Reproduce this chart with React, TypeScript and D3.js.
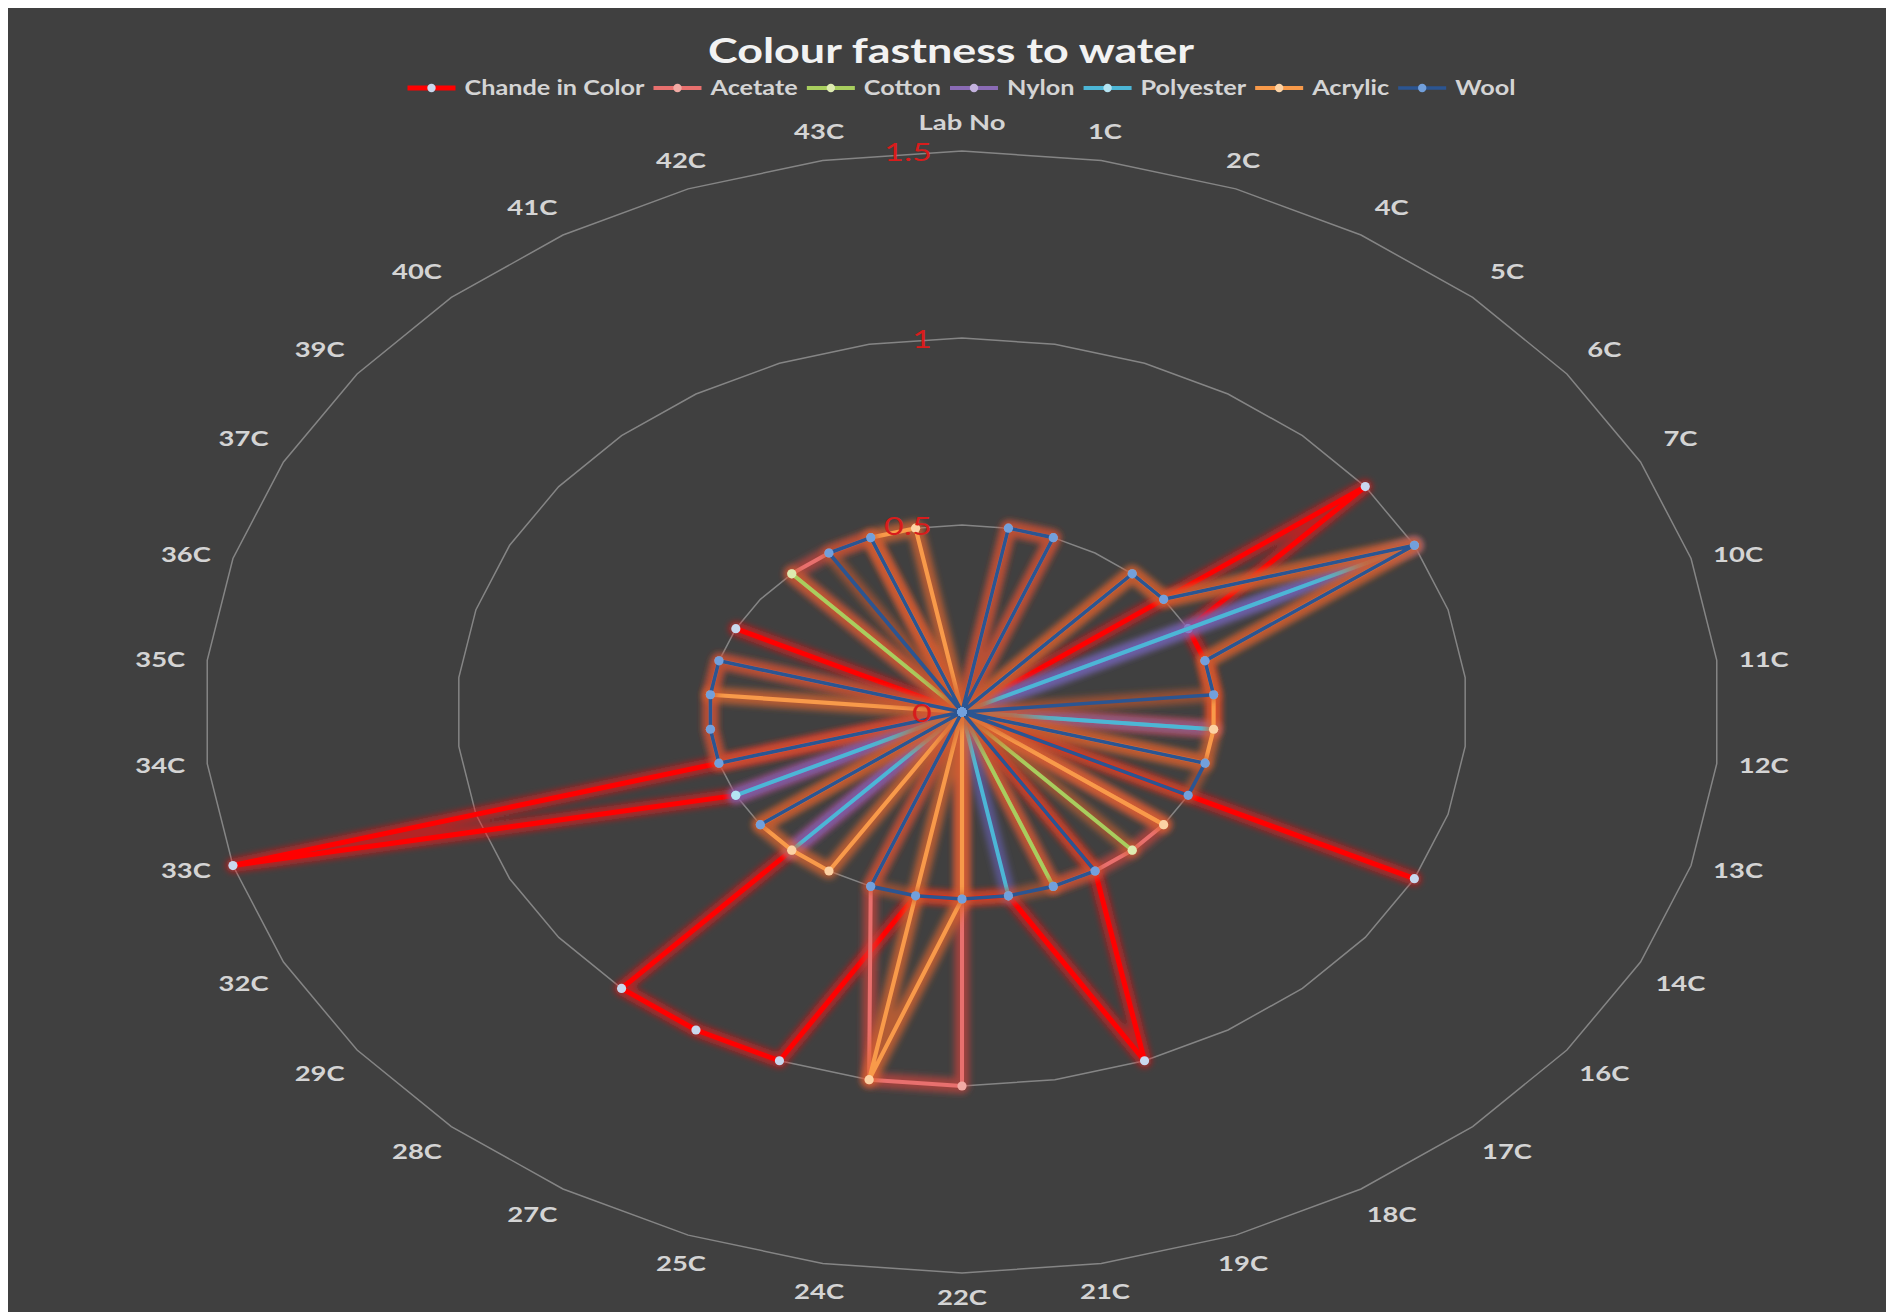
import React, { useEffect, useRef } from "react";
import * as d3 from "d3";

const PAGE_W = 1894;
const PAGE_H = 1312;

const categories = [
  "Lab No", "1C", "2C", "4C", "5C", "6C", "7C", "10C", "11C", "12C", "13C", "14C",
  "16C", "17C", "18C", "19C", "21C", "22C", "24C", "25C", "27C", "28C", "29C", "32C",
  "33C", "34C", "35C", "36C", "37C", "39C", "40C", "41C", "42C", "43C",
];

const changeInColor = [0, 0, 0, 0, 0, 1, 0.5, 0.5, 0.5, 0.5, 0, 1, 0, 0, 0.5, 1, 0.5, 0.5, 0.5, 1, 1, 1, 0, 0.5, 1.5, 0, 0, 0, 0.5, 0, 0, 0, 0, 0];
const acetate = [0, 0.5, 0.5, 0, 0, 0, 0, 0, 0, 0, 0, 0, 0.5, 0.5, 0.5, 0.5, 0, 1, 1, 0.5, 0, 0, 0, 0, 0.5, 0.5, 0.5, 0.5, 0, 0, 0.5, 0.5, 0.5, 0];
const cotton = [0, 0, 0, 0, 0, 0, 0, 0, 0, 0.5, 0, 0, 0, 0.5, 0, 0.5, 0, 0, 0, 0, 0, 0, 0, 0, 0, 0, 0, 0, 0, 0, 0.5, 0, 0, 0];
const nylon = [0, 0, 0, 0, 0, 0, 1, 0, 0, 0, 0, 0, 0, 0, 0, 0, 0, 0, 0, 0, 0, 0.5, 0, 0.5, 0, 0, 0, 0, 0, 0, 0, 0, 0, 0];
const polyester = [0, 0, 0, 0, 0, 0, 1, 0, 0, 0.5, 0, 0, 0, 0, 0, 0, 0.5, 0, 0, 0, 0, 0.5, 0, 0.5, 0, 0, 0, 0, 0, 0, 0, 0, 0, 0];
const acrylic = [0, 0, 0, 0, 0.5, 0.5, 1, 0.5, 0.5, 0.5, 0.5, 0, 0.5, 0, 0, 0, 0, 0.5, 1, 0, 0.5, 0.5, 0.5, 0, 0, 0, 0.5, 0, 0, 0, 0, 0, 0.5, 0.5];
const wool = [0, 0.5, 0.5, 0, 0.5, 0.5, 1, 0.5, 0.5, 0, 0.5, 0.5, 0, 0, 0.5, 0.5, 0.5, 0.5, 0.5, 0.5, 0, 0, 0.5, 0, 0.5, 0.5, 0.5, 0.5, 0, 0, 0, 0.5, 0.5, 0];

const seriesNames = ["Chande in Color", "Acetate", "Cotton", "Nylon", "Polyester", "Acrylic", "Wool"];
const seriesValues = [changeInColor, acetate, cotton, nylon, polyester, acrylic, wool];

const tickValues = [0, 0.5, 1, 1.5];
const tickLabels = ["0", "0.5", "1", "1.5"];

const seriesStyles = [
  { line: "#FF0000", glow: "#FF1010", marker: "#C9D8EE", width: 5, glowW: 14, glowO: 0.6 },
  { line: "#E8706E", glow: "#E0443C", marker: "#F2AAA4", width: 4, glowW: 15, glowO: 0.6 },
  { line: "#A8CE5E", glow: "#D2642E", marker: "#DDEBB0", width: 4, glowW: 15, glowO: 0.6 },
  { line: "#8A6BB5", glow: "#8A6BB5", marker: "#C3B2DE", width: 4, glowW: 15, glowO: 0.6 },
  { line: "#4CB6D6", glow: "#6A62BE", marker: "#B4E4F2", width: 4, glowW: 15, glowO: 0.6 },
  { line: "#F89A4A", glow: "#E2662C", marker: "#FCD2A4", width: 4.2, glowW: 16, glowO: 0.7 },
  { line: "#2B5592", glow: "#C9582C", marker: "#72A0DC", width: 3.6, glowW: 14, glowO: 0.6 },
];

export default function App() {
  const ref = useRef<SVGSVGElement>(null);

  useEffect(() => {
    const svgEl = ref.current;
    if (!svgEl) return;
    const svg = d3.select(svgEl);
    svg.selectAll("*").remove();

    const defs = svg.append("defs");
    defs.append("filter").attr("id", "blur").attr("x", "-20%").attr("y", "-20%").attr("width", "140%").attr("height", "140%")
      .append("feGaussianBlur").attr("stdDeviation", 3);
    defs.append("filter").attr("id", "blurS").attr("x", "-50%").attr("y", "-50%").attr("width", "200%").attr("height", "200%")
      .append("feGaussianBlur").attr("stdDeviation", 1.8);

    const root = svg.append("g").attr("transform", "translate(-8,-8)");
    root.append("rect").attr("x", 0).attr("y", 0).attr("width", PAGE_W).attr("height", PAGE_H).attr("fill", "#404040");

    const cx = 962, cy = 712, rx = 758, ry = 561;
    const n = categories.length;
    const rScale = d3.scaleLinear().domain([0, 1.5]).range([0, 1]);
    const aScale = d3.scaleLinear().domain([0, n]).range([0, Math.PI * 2]);
    const px = (i: number, v: number) => cx + rScale(v) * rx * Math.sin(aScale(i));
    const py = (i: number, v: number) => cy - rScale(v) * ry * Math.cos(aScale(i));

    const fontFam = "Lato, 'Open Sans', 'DejaVu Sans', sans-serif";

    const measure = (txt: string, size: number, weight: string) => {
      const t = svg.append("text").attr("font-family", fontFam).attr("font-size", size).attr("font-weight", weight).text(txt);
      const w = (t.node() as SVGTextElement).getComputedTextLength();
      t.remove();
      return w;
    };

    // grid polygons
    tickValues.filter((t) => t > 0).forEach((t) => {
      const pts = categories.map((_, i) => [px(i, t), py(i, t)] as [number, number]);
      root.append("path")
        .attr("d", d3.line().curve(d3.curveLinearClosed)(pts))
        .attr("fill", "none").attr("stroke", "#858585").attr("stroke-width", 1.5);
    });

    // category labels
    const catSize = 20;
    const catScale = 50 / measure("10C", catSize, "bold");
    categories.forEach((c, i) => {
      const a = aScale(i);
      const s = Math.sin(a), co = Math.cos(a);
      const vx = px(i, 1.5), vy = py(i, 1.5);
      let dx: number, dy: number;
      const as = Math.abs(s);
      if (as < 0.4) {
        dx = 20 * s;
        dy = co > 0 ? -29 : (as < 0.1 ? 24 : 28);
      } else if (as < 0.93) {
        dx = Math.sign(s) * (30 + 25 * (as - 0.5));
        dy = co > 0 ? -(19 + 10 * Math.abs(co)) : 17 + 10 * Math.abs(co);
      } else {
        dx = Math.sign(s) * 47;
        dy = -co * 15;
      }
      root.append("text")
        .attr("transform", `translate(${vx + dx},${vy + dy}) scale(${catScale},1)`)
        .attr("text-anchor", "middle").attr("dominant-baseline", "central")
        .attr("font-family", fontFam).attr("font-size", catSize).attr("font-weight", "bold")
        .attr("fill", "#D4D4D4").text(c);
    });

    // series
    const line = d3.line<[number, number]>().curve(d3.curveLinearClosed);
    seriesValues.forEach((vals, si) => {
      const st = seriesStyles[si];
      const pts = vals.map((v, i) => [px(i, v), py(i, v)] as [number, number]);
      const g = root.append("g");
      g.append("path").attr("d", line(pts)).attr("fill", "none")
        .attr("stroke", st.glow).attr("stroke-width", st.glowW).attr("stroke-opacity", st.glowO)
        .attr("stroke-linejoin", "round").attr("filter", "url(#blur)");
      g.append("path").attr("d", line(pts)).attr("fill", "none")
        .attr("stroke", st.line).attr("stroke-width", st.width).attr("stroke-linejoin", "round");
      g.selectAll("circle.m").data(pts).enter().append("circle")
        .attr("cx", (d) => d[0]).attr("cy", (d) => d[1]).attr("r", 4.6)
        .attr("fill", st.marker);
    });

    // tick labels (red)
    const tickSize = 25;
    tickValues.forEach((t, k) => {
      root.append("text")
        .attr("transform", `translate(${cx - 30},${py(0, t)}) scale(${catScale},1)`)
        .attr("text-anchor", "end").attr("dominant-baseline", "central")
        .attr("font-family", fontFam).attr("font-size", tickSize)
        .attr("fill", "#D81C1C").text(tickLabels[k]);
    });

    // title
    root.append("text")
      .attr("x", 951).attr("y", 49)
      .attr("text-anchor", "middle").attr("dominant-baseline", "central")
      .attr("font-family", fontFam).attr("font-size", 35).attr("font-weight", "bold")
      .attr("fill", "#F2F2F2")
      .attr("textLength", 486).attr("lengthAdjust", "spacingAndGlyphs")
      .text("Colour fastness to water");

    // legend
    const legSize = 20;
    const legScale = 180 / measure("Chande in Color", legSize, "bold");
    const lineLen = 48, gapLT = 9, gapTL = 9;
    const widths = seriesNames.map((s) => measure(s, legSize, "bold") * legScale);
    const total = widths.reduce((a, b) => a + b, 0) + seriesNames.length * (lineLen + gapLT) + (seriesNames.length - 1) * gapTL;
    let x = 961.5 - total / 2;
    const ly = 88;
    seriesNames.forEach((name, si) => {
      const st = seriesStyles[si];
      root.append("line").attr("x1", x).attr("x2", x + lineLen).attr("y1", ly).attr("y2", ly)
        .attr("stroke", st.glow).attr("stroke-width", 10).attr("stroke-opacity", 0.55).attr("filter", "url(#blurS)");
      root.append("line").attr("x1", x).attr("x2", x + lineLen).attr("y1", ly).attr("y2", ly)
        .attr("stroke", st.line).attr("stroke-width", st.width);
      root.append("circle").attr("cx", x + lineLen / 2).attr("cy", ly).attr("r", 4.2).attr("fill", st.marker);
      x += lineLen + gapLT;
      root.append("text")
        .attr("transform", `translate(${x},${ly}) scale(${legScale},1)`)
        .attr("dominant-baseline", "central")
        .attr("font-family", fontFam).attr("font-size", legSize).attr("font-weight", "bold")
        .attr("fill", "#D4D4D4").text(name);
      x += widths[si] + gapTL;
    });
  }, []);

  return <svg ref={ref} width={PAGE_W - 8} height={PAGE_H - 8} style={{ display: "block" }} />;
}
